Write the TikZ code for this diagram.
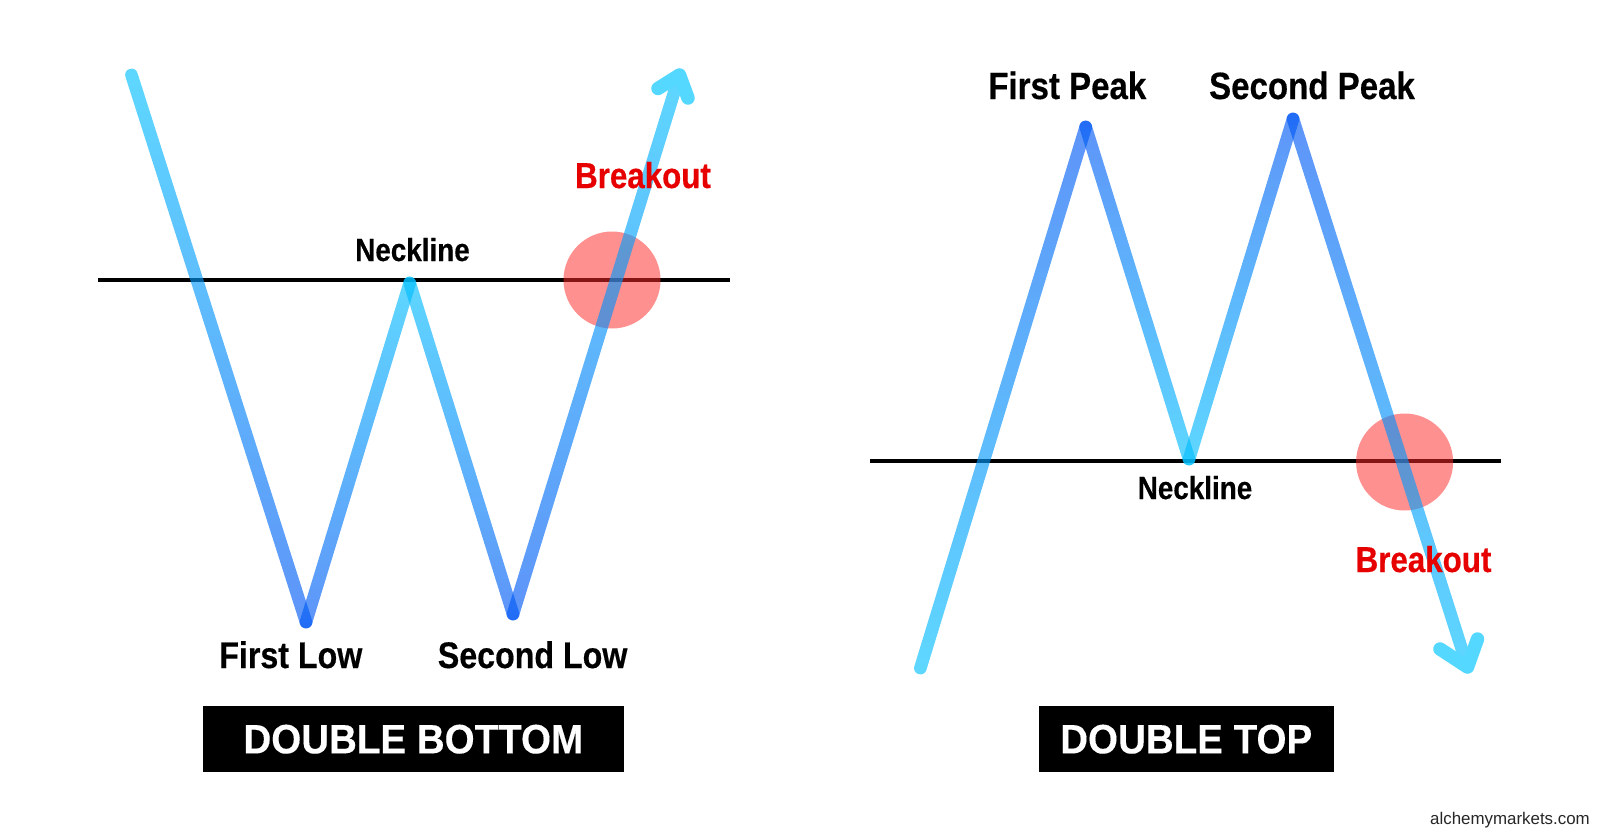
\documentclass[tikz,border=0pt]{standalone}
\usepackage{fontspec}
\setmainfont{Liberation Sans}
\newfontfamily\labelfont[FakeStretch=0.87,BoldFeatures={FakeBold=0.4}]{Liberation Sans}
\newfontfamily\titlefont[FakeStretch=0.94,BoldFeatures={FakeBold=0.2}]{Liberation Sans}
\usepackage{tikz}
\usetikzlibrary{calc}
\definecolor{legcyan}{HTML}{00C1FF}
\definecolor{legblue}{HTML}{0055F4}
\definecolor{headcyan}{HTML}{55D8FF}
\definecolor{breakred}{HTML}{E60000}
\definecolor{ringred}{HTML}{FF2A2A}

\def\legwd{6.3pt}
% one leg of a pattern: from, to, colour at the top, colour at the bottom
\def\legbar#1#2#3#4{%
    \coordinate (ea) at ($(#1)!-\legwd!(#2)$);
    \coordinate (eb) at ($(#2)!-\legwd!(#1)$);
    \shade[leg paint, top color=#3, bottom color=#4]
        ($(ea)!\legwd!90:(eb)$) -- ($(eb)!\legwd!-90:(ea)$)
        -- ($(eb)!\legwd!90:(ea)$) -- ($(ea)!\legwd!-90:(eb)$) -- cycle;
}

\begin{document}
\begin{tikzpicture}[
    x=1pt, y=-1pt,
    leg paint/.style={fill opacity=0.63, rounded corners=6pt},
    arrow head/.style={draw=headcyan, line width=13.5pt, line cap=round, line join=round},
    neck line/.style={black, line width=3.2pt},
    ring/.style={circle, fill=ringred, fill opacity=0.52, minimum size=97pt, inner sep=0},
    big label/.style={anchor=base, inner sep=0, font=\labelfont\bfseries\fontsize{37}{37}\selectfont},
    peak label/.style={big label, font=\labelfont\bfseries\fontsize{38}{38}\selectfont},
    neck label/.style={big label, font=\labelfont\bfseries\fontsize{32}{32}\selectfont},
    break label/.style={big label, text=breakred, font=\labelfont\bfseries\fontsize{36}{36}\selectfont},
    title box/.style={fill=black, text=white, inner sep=0, minimum height=66pt, text depth=0pt,
        font=\titlefont\bfseries\fontsize{41}{41}\selectfont}
    ]

    \useasboundingbox (0,0) rectangle (1600,839);

    % double bottom
    \coordinate (bstart) at (131.5,75);
    \coordinate (blowa) at (306,622);
    \coordinate (bneck) at (409.7,283);
    \coordinate (blowb) at (513,614);
    \coordinate (btip) at (679.5,75);
    \coordinate (bbarba) at (658,88.5);
    \coordinate (bbarbb) at (688,98);
    \coordinate (bneckl) at (98,280);
    \coordinate (bneckr) at (729.5,280);

    \draw[neck line] (bneckl) -- (bneckr);
    \node[ring] (bring) at (612,280) {};

    \legbar{bstart}{blowa}{legcyan}{legblue}
    \legbar{blowa}{bneck}{legcyan}{legblue}
    \legbar{bneck}{blowb}{legcyan}{legblue}
    \legbar{blowb}{btip}{legcyan}{legblue}
    \draw[arrow head] (bbarba) -- (btip) -- (bbarbb);

    \node[neck label] (bnecklabel) at (412.5,261) {Neckline};
    \node[break label] (bbreak) at (643,188) {Breakout};
    \node[big label] (blowalabel) at (290.8,668) {First Low};
    \node[big label] (blowblabel) at (532.6,668) {Second Low};
    \node[title box, minimum width=420.5pt] (btitle) at (413.3,739) {DOUBLE BOTTOM};

    % double top
    \coordinate (tstart) at (920.4,668);
    \coordinate (tpeaka) at (1085.7,127);
    \coordinate (tneck) at (1189,459);
    \coordinate (tpeakb) at (1293,119);
    \coordinate (ttip) at (1467.5,667);
    \coordinate (tbarba) at (1440,649);
    \coordinate (tbarbb) at (1477.5,639);
    \coordinate (tneckl) at (870,461);
    \coordinate (tneckr) at (1500.5,461);

    \draw[neck line] (tneckl) -- (tneckr);
    \node[ring] (tring) at (1404.6,462) {};

    \legbar{tstart}{tpeaka}{legblue}{legcyan}
    \legbar{tpeaka}{tneck}{legblue}{legcyan}
    \legbar{tneck}{tpeakb}{legblue}{legcyan}
    \legbar{tpeakb}{ttip}{legblue}{legcyan}
    \draw[arrow head] (tbarba) -- (ttip) -- (tbarbb);

    \node[neck label] (tnecklabel) at (1195,499) {Neckline};
    \node[break label] (tbreak) at (1423.5,572) {Breakout};
    \node[peak label] (tpeakalabel) at (1067.3,99) {First Peak};
    \node[peak label] (tpeakblabel) at (1312,99) {Second Peak};
    \node[title box, minimum width=295pt] (ttitle) at (1186.2,739) {DOUBLE TOP};

    \node[anchor=base east, inner sep=0, font=\fontsize{16.9}{17}\selectfont, text=black!85] (site) at (1590,824) {alchemymarkets.com};

\end{tikzpicture}
\end{document}
